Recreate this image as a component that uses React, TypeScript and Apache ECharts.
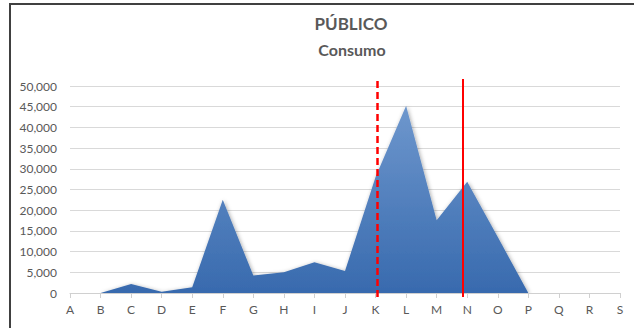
import React, { useEffect, useRef } from "react";
import * as echarts from "echarts";

const categories = ["A", "B", "C", "D", "E", "F", "G", "H", "I", "J", "K", "L", "M", "N", "O", "P", "Q", "R", "S"];
const consumo = [0, 0, 2200, 300, 1400, 22500, 4200, 5000, 7400, 5300, 28000, 45200, 17600, 26900, 13500, 0, 0, 0, 0];
const dashedMarkerPosition = 10.05; // at K, in category index units
const solidMarkerPosition = 12.85; // between M and N, in category index units
const titleText = "PÚBLICO";
const subtitleText = "Consumo";

export default function App() {
  const ref = useRef<HTMLDivElement>(null);
  useEffect(() => {
    if (!ref.current) return;
    const chart = echarts.init(ref.current, undefined, { renderer: "svg" });
    const font = "Lato, 'Open Sans', sans-serif";
    chart.setOption({
      animation: false,
      backgroundColor: "#ffffff",
      textStyle: { fontFamily: font },
      title: [
        {
          text: titleText,
          left: 346,
          top: 10,
          textAlign: "center",
          textStyle: { fontFamily: font, fontSize: 17, fontWeight: "bold", color: "#595959" },
        },
        {
          text: subtitleText,
          left: 347,
          top: 36,
          textAlign: "center",
          textStyle: { fontFamily: font, fontSize: 16, fontWeight: "bold", color: "#595959" },
        },
      ],
      graphic: [
        { type: "rect", shape: { x: 9, y: 3, width: 2, height: 330 }, style: { fill: "#404040" }, silent: true },
        { type: "rect", shape: { x: 9, y: 3, width: 630, height: 2 }, style: { fill: "#404040" }, silent: true },
      ],
      grid: [
        { left: 70, right: 14, top: 86, bottom: 35 },
        { left: 70, right: 14, top: 79, bottom: 31 },
      ],
      xAxis: [
        {
          type: "category",
          gridIndex: 0,
          data: categories,
          boundaryGap: false,
          axisLine: { lineStyle: { color: "#d0d0d0", width: 1 } },
          axisTick: { show: true, length: 5, lineStyle: { color: "#d0d0d0" } },
          axisLabel: { color: "#595959", fontSize: 12, fontFamily: font, margin: 10 },
          splitLine: { show: false },
        },
        {
          type: "value",
          gridIndex: 1,
          min: 0,
          max: categories.length - 1,
          show: false,
          splitLine: { show: false },
        },
      ],
      yAxis: [
        {
          type: "value",
          gridIndex: 0,
          min: 0,
          max: 50000,
          interval: 5000,
          axisLine: { show: false },
          axisTick: { show: false },
          axisLabel: {
            color: "#595959",
            fontSize: 12,
            fontFamily: font,
            margin: 13,
            formatter: (v: number) => v.toLocaleString("en-US"),
          },
          splitLine: { lineStyle: { color: "#d9d9d9", width: 1 } },
        },
        {
          type: "value",
          gridIndex: 1,
          min: 0,
          max: 1,
          show: false,
          splitLine: { show: false },
        },
      ],
      series: [
        {
          type: "line",
          name: "Consumo",
          xAxisIndex: 0,
          yAxisIndex: 0,
          data: consumo,
          symbol: "none",
          lineStyle: { width: 0, opacity: 0 },
          areaStyle: {
            color: new echarts.graphic.LinearGradient(0, 0, 0, 1, [
              { offset: 0, color: "#6e97cd" },
              { offset: 1, color: "#386aae" },
            ]),
            opacity: 1,
            shadowBlur: 4,
            shadowColor: "rgba(0,0,0,0.35)",
            shadowOffsetX: 1,
            shadowOffsetY: 1,
          },
          z: 2,
        },
        {
          type: "line",
          name: "markers",
          xAxisIndex: 1,
          yAxisIndex: 1,
          data: [],
          symbol: "none",
          z: 5,
          markLine: {
            silent: true,
            symbol: "none",
            label: { show: false },
            animation: false,
            data: [
              { xAxis: dashedMarkerPosition, lineStyle: { color: "#ff0000", width: 2.5, type: [7, 4] } },
              { xAxis: solidMarkerPosition, lineStyle: { color: "#ff0000", width: 2, type: "solid" } },
            ],
          },
        },
      ],
    });
    return () => chart.dispose();
  }, []);
  return (
    <div
      ref={ref}
      style={{ position: "fixed", left: 0, top: 0, width: 634, height: 328 }}
    />
  );
}
